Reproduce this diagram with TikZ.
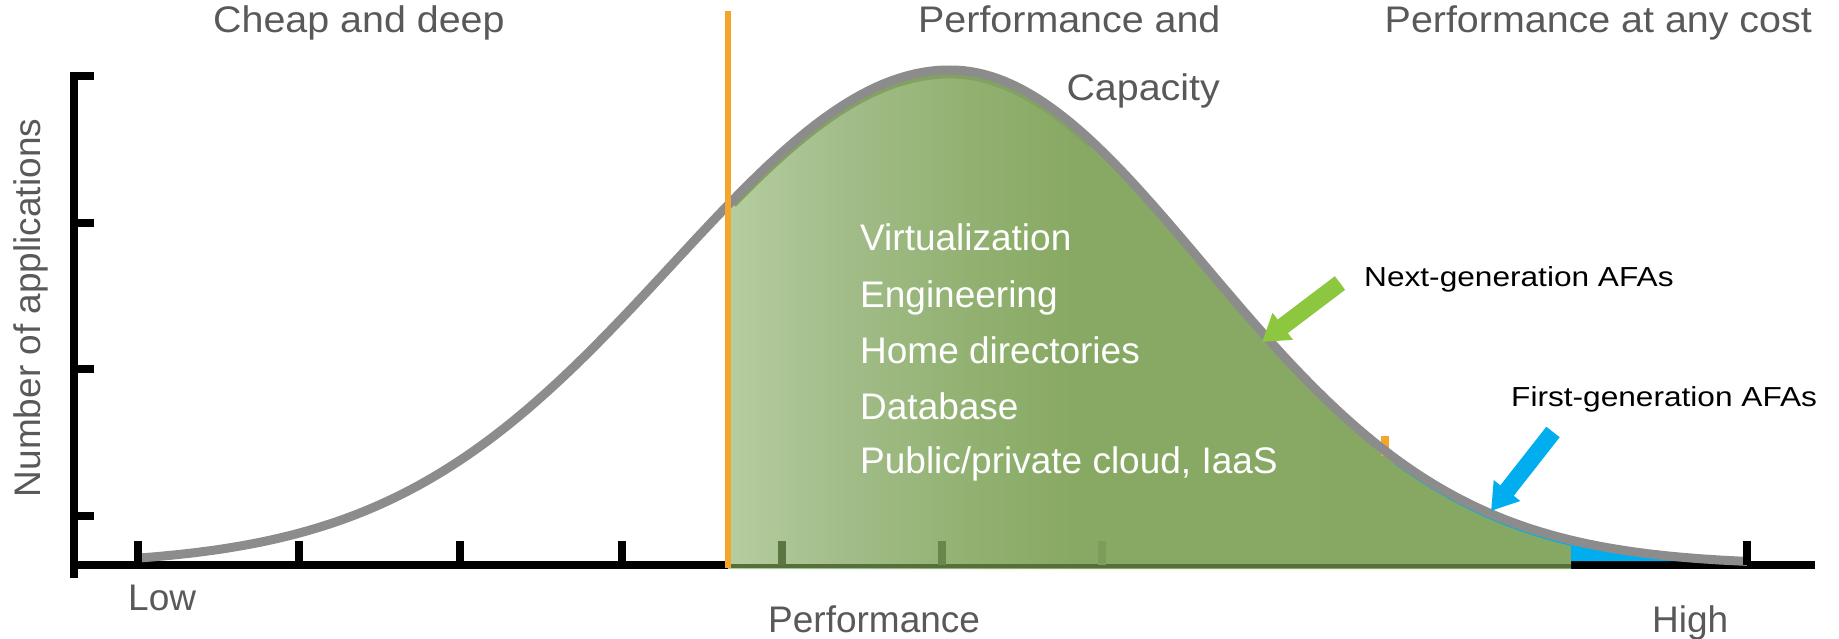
\documentclass[tikz,border=0pt]{standalone}
\usepackage{fontspec}
\setmainfont{Liberation Sans}
\newfontfamily\titlefont[FakeStretch=1.065]{Liberation Sans}
\newfontfamily\lblfont[FakeStretch=1.15]{Liberation Sans}
\usetikzlibrary{arrows.meta}
\definecolor{titlegray}{HTML}{595959}
\definecolor{curvegray}{HTML}{8C8C8C}
\definecolor{orng}{HTML}{F5A42C}
\definecolor{gA}{HTML}{B6CDA0}
\definecolor{gB}{HTML}{A3BD8A}
\definecolor{gC}{HTML}{93B273}
\definecolor{gD}{HTML}{88A963}
\definecolor{gE}{HTML}{87A862}
\definecolor{gAxis}{HTML}{56703C}
\definecolor{gEdge}{HTML}{83A163}
\definecolor{afaGreen}{HTML}{8DC63F}
\definecolor{afaBlue}{HTML}{00AEEF}
\pgfdeclarehorizontalshading{greenfade}{100bp}{color(0bp)=(gA); color(25bp)=(gA); color(31.6bp)=(gB); color(38.7bp)=(gC); color(45.5bp)=(gD); color(75bp)=(gE); color(100bp)=(gE)}
\begin{document}
\begin{tikzpicture}[x=1pt,y=-1pt,
  declare function={fl(\x)=565-495*exp(-0.5*((\x-950)/278)*((\x-950)/278));
                    fr(\x)=565-495*exp(-0.5*((\x-950)/254)*((\x-950)/254));},
  title/.style={inner sep=0pt, text=titlegray, font=\titlefont\fontsize{37}{44}\selectfont},
  axlabel/.style={inner sep=0pt, text=titlegray, font=\fontsize{37}{44}\selectfont},
  listtxt/.style={inner sep=0pt, text=white, anchor=base west, font=\fontsize{37}{44}\selectfont},
  afalbl/.style={inner sep=0pt, text=black, anchor=base west, font=\lblfont\fontsize{27.5}{33}\selectfont},
  axisline/.style={line width=8pt, draw=black},
  tickmark/.style={line width=8pt, draw=black},
  curveline/.style={line width=9pt, draw=curvegray, line join=round},
  blockarrow/.style={line width=17pt, -{Triangle[width=32pt,length=26pt]}}]
\useasboundingbox (0,0) rectangle (1839,639);

% axes
\draw[axisline] (70,565) -- (1815,565);
\draw[axisline] (74,72) -- (74,578);
\foreach \yy in {76,223,369,516} \draw[tickmark] (70,\yy) -- (94,\yy);
\foreach \xx in {138,299,460,622} \draw[tickmark] (\xx,541) -- (\xx,565);

% green area
\shade[shading=greenfade] (728,569) -- plot[domain=728:950,samples=60] (\x,{fl(\x)})
   -- plot[domain=950:1571,samples=120] (\x,{fr(\x)}) -- (1571,569) -- cycle;
\draw[line width=4pt, draw=gAxis] (728,566) -- (1571,566);
\draw[line width=8pt, draw=gAxis!90!gE] (782,541) -- (782,565);
\draw[line width=8pt, draw=gAxis!60!gE] (942,541) -- (942,565);
\draw[line width=8pt, draw=gAxis!20!gE] (1102,541) -- (1102,565);
\draw[line width=5pt, draw=gEdge] plot[domain=734:950,samples=40] (\x,{fl(\x)+6}) -- plot[domain=950:1090,samples=30] (\x,{fr(\x)+6});

% blue area
\fill[afaBlue] (1571,561) -- plot[domain=1571:1747,samples=40] (\x,{fr(\x)}) -- (1747,561) -- cycle;
\draw[line width=1.5pt, draw=afaBlue] plot[domain=1395:1571,samples=40] (\x,{fr(\x)+5});

% small orange mark
\fill[orng] (1381,436) rectangle (1389,456);

% bell curve
\draw[curveline] plot[domain=138:950,samples=120] (\x,{fl(\x)}) -- plot[domain=950:1747,samples=120] (\x,{fr(\x)});
\foreach \xx in {138,1747} \draw[tickmark] (\xx,541) -- (\xx,565);

% orange divider
\draw[line width=6pt, draw=orng] (728,11) -- (728,568);

% titles
\node[title, anchor=base west] (cheap) at (213,33) {Cheap and deep};
\node[title, anchor=base west] (perfcap) at (918,33) {Performance and};
\node[title, anchor=base east] (capac) at (1220,101) {Capacity};
\node[title, anchor=base east] (anycost) at (1812,33) {Performance at any cost};

% axis labels
\node[axlabel, anchor=base, rotate=90] (ylab) at (40,308) {Number of applications};
\node[axlabel, anchor=base west] (low) at (128,610) {Low};
\node[axlabel, anchor=base west] (xlab) at (768,632) {Performance};
\node[axlabel, anchor=base west] (high) at (1652,632) {High};

% workloads
\node[listtxt] (w1) at (860,251) {Virtualization};
\node[listtxt] (w2) at (860,307) {Engineering};
\node[listtxt] (w3) at (860,363) {Home directories};
\node[listtxt] (w4) at (860,419) {Database};
\node[listtxt] (w5) at (860,473) {Public/private cloud, IaaS};

% AFA labels and arrows
\node[afalbl] (nextgen) at (1364,286) {Next-generation AFAs};
\node[afalbl] (firstgen) at (1511,406) {First-generation AFAs};
\coordinate (ngTail) at (1340,283);
\coordinate (ngTip) at (1262,342);
\coordinate (fgTail) at (1553,432);
\coordinate (fgTip) at (1491,511);
\draw[blockarrow, draw=afaGreen, fill=afaGreen] (ngTail) -- (ngTip);
\draw[blockarrow, draw=afaBlue, fill=afaBlue] (fgTail) -- (fgTip);
\end{tikzpicture}
\end{document}
